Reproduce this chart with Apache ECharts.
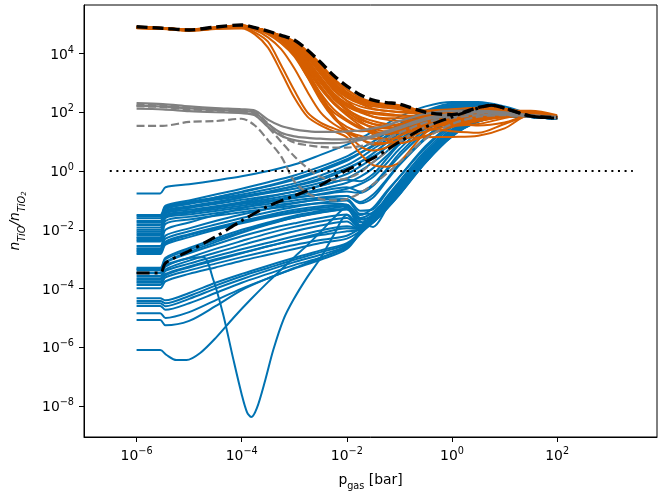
<!DOCTYPE html>
<html><head><meta charset="utf-8">
<script src="https://cdn.jsdelivr.net/npm/echarts@6/dist/echarts.min.js"></script>
<style>html,body{margin:0;padding:0;background:#fff}#c{width:658px;height:497px}</style>
</head><body><div id="c"></div>
<script>
// All values are log10 of the plotted quantities (x: p_gas [bar], y: n_TiO/n_TiO2)
const xTickExp = [-6, -4, -2, 0, 2];
const yTickExp = [-8, -6, -4, -2, 0, 2, 4];

// ---- blue models (shared pressure grid) ----
const xBlue = [-6,-5.55,-5.45,-5,-4.5,-4,-3.5,-3,-2.5,-2,-1.75,-1.5,-1.25,-1,-0.5,0,0.5,1,1.5,2];
const blueLines = [
 [-0.76,-0.76,-0.55,-0.45,-0.32,-0.18,0.0,0.22,0.55,0.9,1.1,1.35,1.6,1.85,2.2,2.35,2.35,2.2,1.95,1.85],
 [-1.5,-1.5,-1.18,-1.0,-0.8,-0.6,-0.38,-0.15,0.15,0.5,0.75,1.0,1.3,1.6,2.05,2.3,2.3,2.15,1.95,1.85],
 [-1.55,-1.55,-1.22,-1.05,-0.9,-0.72,-0.52,-0.3,0.0,0.35,0.6,0.88,1.2,1.5,2.0,2.25,2.28,2.1,1.92,1.83],
 [-1.61,-1.61,-1.25,-1.1,-0.95,-0.8,-0.62,-0.42,-0.15,0.2,0.45,0.75,1.05,1.4,1.95,2.2,2.25,2.1,1.9,1.82],
 [-1.7,-1.7,-1.28,-1.1,-0.9,-0.7,-0.5,-0.25,0.05,0.4,0.62,0.85,1.15,1.45,1.98,2.25,2.27,2.1,1.9,1.82],
 [-1.76,-1.76,-1.3,-1.12,-0.98,-0.85,-0.7,-0.52,-0.3,0.05,0.3,0.6,0.95,1.3,1.9,2.2,2.22,2.05,1.9,1.8],
 [-1.84,-1.84,-1.35,-1.2,-1.05,-0.9,-0.75,-0.6,-0.4,-0.1,0.15,0.45,0.8,1.15,1.8,2.15,2.2,2.05,1.88,1.8],
 [-1.92,-1.92,-1.4,-1.25,-1.12,-0.98,-0.85,-0.7,-0.5,-0.25,0.0,0.3,0.65,1.05,1.7,2.1,2.18,2.05,1.9,1.82],
 [-2.0,-2.0,-1.42,-1.25,-1.08,-0.9,-0.72,-0.5,-0.25,0.1,0.3,0.5,0.8,1.2,1.85,2.18,2.22,2.05,1.9,1.82],
 [-2.06,-2.06,-1.45,-1.32,-1.2,-1.08,-0.95,-0.8,-0.62,-0.4,-0.2,0.1,0.5,0.95,1.65,2.05,2.15,2.0,1.88,1.8],
 [-2.12,-2.12,-1.5,-1.38,-1.25,-1.12,-1.0,-0.9,-0.8,-0.7,-0.75,-0.5,0.0,0.5,1.35,1.9,2.1,2.0,1.88,1.8],
 [-2.18,-2.18,-1.55,-1.42,-1.3,-1.18,-1.05,-0.92,-0.78,-0.6,-0.45,-0.2,0.25,0.75,1.55,2.0,2.1,2.0,1.88,1.8],
 [-2.25,-2.25,-1.58,-1.4,-1.22,-1.05,-0.88,-0.7,-0.5,-0.3,-0.35,-0.1,0.4,0.9,1.6,2.05,2.15,2.02,1.88,1.8],
 [-2.29,-2.29,-1.6,-1.48,-1.36,-1.24,-1.12,-1.0,-0.9,-0.85,-1.1,-0.9,-0.35,0.2,1.1,1.75,2.0,1.95,1.85,1.78],
 [-2.35,-2.35,-1.7,-1.56,-1.44,-1.32,-1.2,-1.08,-0.98,-0.95,-1.35,-1.3,-0.75,-0.2,0.8,1.55,1.9,1.92,1.85,1.78],
 [-2.4,-2.4,-1.8,-1.65,-1.52,-1.4,-1.28,-1.18,-1.1,-1.15,-1.6,-1.7,-1.1,-0.5,0.6,1.4,1.85,1.9,1.85,1.78],
 [-2.55,-2.55,-2.0,-1.75,-1.5,-1.27,-1.05,-0.85,-0.68,-0.55,-0.7,-0.45,0.05,0.6,1.45,1.95,2.1,2.0,1.88,1.8],
 [-2.63,-2.63,-2.2,-1.95,-1.7,-1.48,-1.28,-1.1,-0.95,-0.85,-1.05,-0.8,-0.3,0.25,1.15,1.8,2.05,1.98,1.86,1.8],
 [-2.67,-2.67,-2.3,-2.05,-1.82,-1.6,-1.4,-1.22,-1.08,-1.0,-1.45,-1.45,-0.9,-0.35,0.7,1.5,1.9,1.92,1.85,1.78],
 [-2.72,-2.72,-2.4,-2.15,-1.92,-1.7,-1.5,-1.32,-1.2,-1.15,-1.7,-1.9,-1.3,-0.65,0.5,1.35,1.8,1.9,1.84,1.78],
 [-2.77,-2.77,-2.45,-2.18,-1.95,-1.74,-1.55,-1.38,-1.25,-1.2,-1.75,-1.6,-1.15,-0.6,0.45,1.3,1.75,1.9,1.85,1.8],
 [-2.82,-2.82,-2.5,-2.25,-2.0,-1.78,-1.58,-1.42,-1.3,-1.3,-1.85,-1.6,-1.05,-0.5,0.55,1.4,1.85,1.9,1.84,1.78],
 [-3.29,-3.29,-2.95,-2.62,-2.3,-2.0,-1.75,-1.52,-1.35,-1.2,-1.5,-1.25,-0.7,-0.2,0.85,1.6,1.95,1.95,1.85,1.8],
 [-3.33,-3.33,-3.0,-2.68,-2.36,-2.06,-1.8,-1.58,-1.42,-1.3,-1.65,-1.5,-1.05,-0.5,0.55,1.38,1.8,1.9,1.85,1.8],
 [-3.45,-3.45,-3.12,-2.8,-2.5,-2.22,-1.98,-1.78,-1.6,-1.48,-1.85,-1.55,-1.1,-0.55,0.5,1.35,1.78,1.9,1.85,1.8],
 [-3.48,-3.48,-3.1,-2.75,-2.42,-2.1,-1.82,-1.58,-1.4,-1.3,-1.6,-1.4,-0.95,-0.45,0.5,1.35,1.8,1.9,1.85,1.8],
 [-3.57,-3.57,-3.25,-2.95,-2.65,-2.38,-2.12,-1.9,-1.72,-1.6,-1.95,-1.6,-1.15,-0.6,0.45,1.3,1.75,1.9,1.85,1.8],
 [-3.65,-3.65,-3.35,-3.05,-2.78,-2.52,-2.28,-2.05,-1.85,-1.72,-2.0,-1.7,-1.25,-0.7,0.35,1.22,1.7,1.88,1.84,1.78],
 [-3.7,-3.7,-3.4,-3.15,-2.9,-2.66,-2.44,-2.22,-2.02,-1.88,-1.95,-1.5,-1.0,-0.45,0.6,1.4,1.8,1.92,1.85,1.8],
 [-3.76,-3.76,-3.5,-3.25,-3.0,-2.78,-2.56,-2.36,-2.18,-2.05,-2.0,-1.75,-1.3,-0.8,0.3,1.18,1.68,1.86,1.84,1.78],
 [-3.8,-3.8,-3.55,-3.28,-3.04,-2.8,-2.56,-2.34,-2.12,-1.95,-1.98,-1.65,-1.2,-0.65,0.42,1.28,1.74,1.9,1.85,1.8],
 [-3.88,-3.88,-3.62,-3.38,-3.15,-2.93,-2.72,-2.52,-2.35,-2.2,-1.95,-1.6,-1.15,-0.6,0.45,1.3,1.75,1.9,1.85,1.8],
 [-3.99,-3.99,-3.75,-3.5,-3.28,-3.05,-2.85,-2.65,-2.45,-2.3,-2.05,-1.7,-1.25,-0.7,0.35,1.22,1.7,1.88,1.84,1.78],
 [-4.33,-4.33,-4.4,-4.15,-3.8,-3.5,-3.22,-2.95,-2.7,-2.45,-2.1,-1.5,-1.0,-0.45,0.6,1.4,1.8,1.92,1.85,1.8],
 [-4.42,-4.42,-4.5,-4.25,-3.9,-3.58,-3.3,-3.02,-2.76,-2.5,-2.12,-1.75,-1.3,-0.8,0.3,1.18,1.68,1.86,1.84,1.78],
 [-4.5,-4.5,-4.6,-4.35,-4.0,-3.68,-3.38,-3.1,-2.85,-2.55,-2.1,-1.6,-1.15,-0.6,0.45,1.3,1.75,1.9,1.85,1.8],
 [-4.59,-4.59,-4.72,-4.5,-4.15,-3.8,-3.5,-3.2,-2.95,-2.6,-2.15,-1.7,-1.25,-0.7,0.35,1.22,1.7,1.88,1.84,1.78],
 [-4.84,-4.84,-5.0,-4.8,-4.4,-4.0,-3.65,-3.32,-3.02,-2.65,-2.1,-1.5,-1.0,-0.45,0.6,1.4,1.8,1.92,1.85,1.8],
 [-5.07,-5.07,-5.25,-5.1,-4.6,-4.05,-3.65,-3.3,-2.95,-2.55,-2.05,-1.6,-1.15,-0.6,0.45,1.3,1.75,1.9,1.85,1.8]
];
// blue model with the deep minimum
const xBlueDip = [-6,-5.55,-5.45,-5,-4.73,-4.54,-4.35,-4.16,-4.0,-3.9,-3.82,-3.71,-3.55,-3.4,-3.21,-3.02,-2.75,-2.5,-2.25,-2,-1.75,-1.5,-1.25,-1,-0.5,0,0.5,1,1.5,2];
const yBlueDip = [-3.37,-3.37,-3.2,-2.96,-2.93,-3.7,-4.9,-6.4,-7.6,-8.2,-8.37,-8.06,-7.1,-6.09,-5.07,-4.39,-3.6,-2.96,-2.18,-1.5,-1.9,-1.5,-1.0,-0.5,0.55,1.35,1.78,1.9,1.84,1.78];
// lowest-starting blue model
const xBlueLow = [-6,-5.55,-5.43,-5.24,-5.05,-4.79,-4.48,-4.16,-3.84,-3.5,-3.0,-2.75,-2.5,-2.25,-2,-1.75,-1.5,-1.25,-1,-0.5,0,0.5,1,1.5,2];
const yBlueLow = [-6.09,-6.09,-6.26,-6.43,-6.43,-6.19,-5.65,-5.0,-4.39,-3.78,-2.93,-2.52,-2.07,-1.6,-1.22,-1.85,-1.45,-0.95,-0.45,0.55,1.35,1.78,1.9,1.84,1.78];

// ---- orange models ----
const xOrange = [-6,-5.5,-5,-4.5,-4,-3.75,-3.5,-3.25,-3,-2.75,-2.5,-2.25,-2,-1.75,-1.5,-1.25,-1,-0.5,0,0.5,1,1.5,2];
const orangeLines = [
 [4.87,4.84,4.78,4.84,4.85,4.65,4.2,3.37,2.5,1.85,1.55,1.35,1.15,0.6,0.2,0.15,0.3,1.3,1.7,1.85,1.85,1.88,1.8],
 [4.88,4.85,4.8,4.86,4.9,4.72,4.4,3.6,2.75,2.0,1.65,1.45,1.3,1.1,0.9,0.95,1.2,1.5,1.6,1.55,1.65,1.9,1.82],
 [4.86,4.83,4.77,4.83,4.88,4.8,4.55,4.15,3.5,2.7,2.0,1.6,1.35,1.2,1.1,1.1,1.12,1.15,1.16,1.2,1.45,1.92,1.8],
 [4.87,4.84,4.79,4.85,4.9,4.84,4.65,4.35,3.9,3.2,2.5,2.0,1.7,1.45,1.3,1.25,1.3,1.45,1.35,1.3,1.6,1.88,1.8],
 [4.88,4.85,4.8,4.86,4.92,4.86,4.7,4.45,4.05,3.45,2.8,2.3,2.0,1.75,1.6,1.55,1.55,1.6,1.55,1.6,1.8,1.95,1.82],
 [4.88,4.85,4.8,4.86,4.92,4.87,4.73,4.5,4.15,3.6,3.0,2.45,2.1,1.85,1.7,1.6,1.55,1.7,1.8,1.85,1.95,1.98,1.85],
 [4.89,4.86,4.81,4.87,4.93,4.88,4.75,4.55,4.22,3.7,3.1,2.55,2.2,2.0,1.85,1.75,1.7,1.8,1.9,2.0,2.0,2.02,1.86],
 [4.89,4.86,4.81,4.87,4.93,4.88,4.75,4.56,4.25,3.78,3.2,2.65,2.3,2.1,2.0,1.95,1.9,1.85,1.9,2.05,2.05,2.05,1.9],
 [4.9,4.86,4.8,4.88,4.94,4.88,4.74,4.55,4.28,3.85,3.3,2.75,2.4,2.2,2.1,2.05,2.0,1.95,1.95,2.0,2.02,1.95,1.84],
 [4.9,4.86,4.8,4.88,4.94,4.87,4.75,4.58,4.32,3.9,3.38,2.85,2.5,2.3,2.2,2.15,2.1,1.95,1.9,2.0,2.05,1.97,1.85],
 [4.9,4.86,4.81,4.88,4.95,4.87,4.75,4.58,4.35,3.95,3.45,2.95,2.58,2.38,2.28,2.22,2.18,2.0,1.95,2.1,2.1,1.93,1.84],
 [4.9,4.87,4.81,4.88,4.95,4.87,4.74,4.6,4.38,4.0,3.5,3.0,2.65,2.42,2.3,2.25,2.2,2.05,1.98,2.15,2.12,1.95,1.85],
 [4.91,4.87,4.81,4.89,4.95,4.87,4.75,4.6,4.4,4.05,3.6,3.1,2.7,2.45,2.32,2.27,2.22,2.0,1.92,2.1,2.08,1.92,1.84],
 [4.91,4.87,4.82,4.89,4.96,4.88,4.76,4.6,4.42,4.08,3.65,3.15,2.78,2.5,2.35,2.28,2.24,2.02,1.95,2.12,2.1,1.93,1.84],
 [4.88,4.85,4.8,4.86,4.92,4.86,4.72,4.5,4.1,3.4,2.6,1.9,1.3,0.85,0.7,0.8,1.05,1.5,1.7,1.8,1.85,1.9,1.8],
 [4.87,4.84,4.79,4.85,4.91,4.85,4.7,4.45,4.0,3.3,2.5,1.85,1.5,1.35,1.4,1.5,1.6,1.75,1.75,1.8,1.9,1.9,1.8],
 [4.89,4.86,4.8,4.87,4.93,4.87,4.73,4.52,4.2,3.65,3.05,2.5,2.05,1.7,1.45,1.35,1.4,1.6,1.75,1.9,1.98,1.93,1.82],
 [4.9,4.86,4.8,4.87,4.94,4.87,4.74,4.57,4.3,3.88,3.35,2.8,2.38,2.05,1.85,1.8,1.8,1.85,1.9,2.05,2.08,1.96,1.84],
 [4.88,4.85,4.79,4.86,4.92,4.86,4.72,4.48,4.05,3.35,2.65,2.1,1.75,1.5,1.35,1.3,1.35,1.55,1.65,1.75,1.85,1.9,1.82],
 [4.89,4.86,4.8,4.87,4.93,4.87,4.74,4.53,4.18,3.55,2.9,2.35,1.95,1.65,1.5,1.45,1.5,1.65,1.8,1.95,2.0,1.94,1.83],
 [4.9,4.86,4.81,4.87,4.94,4.88,4.75,4.57,4.26,3.75,3.15,2.6,2.25,2.05,1.95,1.9,1.88,1.9,1.98,2.08,2.06,1.95,1.85],
 [4.9,4.87,4.81,4.88,4.95,4.88,4.76,4.59,4.33,3.92,3.42,2.9,2.55,2.35,2.25,2.2,2.15,2.05,2.0,2.08,2.06,1.94,1.84],
 [4.89,4.85,4.8,4.86,4.93,4.86,4.73,4.5,4.12,3.5,2.85,2.3,1.9,1.55,1.25,1.05,0.95,1.2,1.5,1.7,1.85,1.9,1.82],
 [4.9,4.86,4.8,4.87,4.94,4.87,4.75,4.56,4.24,3.72,3.12,2.55,2.12,1.8,1.6,1.5,1.45,1.5,1.6,1.75,1.92,1.95,1.84],
 [4.91,4.87,4.81,4.88,4.95,4.88,4.76,4.6,4.36,3.98,3.52,3.02,2.6,2.3,2.12,2.05,2.02,2.05,2.1,2.15,2.1,1.96,1.85],
 [4.88,4.85,4.79,4.85,4.91,4.85,4.7,4.42,3.95,3.2,2.4,1.8,1.4,1.1,0.95,0.95,1.05,1.35,1.55,1.7,1.85,1.9,1.82]
];

// ---- grey models (same grid as orange) ----
const greySolid = [
 [2.31,2.28,2.2,2.14,2.1,2.06,1.75,1.53,1.42,1.36,1.33,1.33,1.35,1.38,1.45,1.55,1.7,1.95,2.05,2.05,2.0,1.9,1.84],
 [2.22,2.2,2.13,2.08,2.04,1.98,1.6,1.3,1.18,1.13,1.1,1.08,1.08,1.12,1.2,1.35,1.5,1.8,1.95,2.02,1.98,1.88,1.82],
 [2.12,2.1,2.04,2.0,1.97,1.9,1.5,1.2,1.05,0.98,0.95,0.95,0.98,1.05,1.15,1.3,1.45,1.75,1.9,2.0,1.96,1.88,1.82]
];
const greyDashed = [
 [2.25,2.23,2.16,2.1,2.06,2.0,1.62,1.22,0.97,0.88,0.82,0.8,0.8,0.85,0.95,1.1,1.3,1.65,1.85,1.95,1.95,1.88,1.82],
 [2.2,2.18,2.1,2.06,2.02,1.95,1.5,1.0,0.5,0.1,-0.2,-0.3,-0.25,-0.05,0.3,0.65,1.0,1.5,1.8,1.9,1.92,1.86,1.8],
 [1.54,1.54,1.67,1.7,1.78,1.55,1.05,0.5,-0.35,-0.75,-0.95,-1.0,-0.95,-0.75,-0.45,-0.1,0.3,1.1,1.6,1.85,1.9,1.85,1.8]
];

// ---- black reference curves ----
const xDashed = [-6,-5.5,-5,-4.5,-4,-3.75,-3.5,-3.25,-3,-2.75,-2.5,-2.25,-2,-1.75,-1.5,-1.25,-1,-0.5,0,0.5,0.75,1,1.5,2];
const yDashed = [4.91,4.86,4.8,4.9,4.97,4.88,4.76,4.62,4.46,4.12,3.7,3.25,2.89,2.6,2.41,2.33,2.28,2.0,1.92,2.16,2.24,2.14,1.87,1.82];
const xDashDot = [-6,-5.55,-5.45,-5,-4.5,-4,-3.5,-3,-2.5,-2,-1.5,-1,-0.5,0,0.5,0.75,1,1.5,2];
const yDashDot = [-3.47,-3.47,-3.13,-2.72,-2.24,-1.69,-1.2,-0.84,-0.48,0.03,0.44,0.99,1.5,1.84,2.14,2.24,2.14,1.87,1.8];
const xUnity = [-6.51, 3.44];
const yUnity = [0, 0];

const BLUE = '#0072B2', ORANGE = '#D55E00', GREY = '#808080';
const series = [];
function addLine(xs, ys, color, width, type, z, smooth) {
  series.push({
    type: 'line', data: xs.map((x, i) => [x, ys[i]]),
    showSymbol: false, symbol: 'none', smooth: smooth, silent: true, z: z,
    lineStyle: { color: color, width: width, type: type, cap: 'butt', join: 'round' }
  });
}
blueLines.forEach(ys => addLine(xBlue, ys, BLUE, 2, 'solid', 2, 0.3));
addLine(xBlueDip, yBlueDip, BLUE, 2, 'solid', 2, 0.3);
addLine(xBlueLow, yBlueLow, BLUE, 2, 'solid', 2, 0.3);
orangeLines.forEach(ys => addLine(xOrange, ys, ORANGE, 2, 'solid', 3, 0.3));
greySolid.forEach(ys => addLine(xOrange, ys, GREY, 2.2, 'solid', 4, 0.3));
greyDashed.forEach(ys => addLine(xOrange, ys, GREY, 2.2, [8, 3.5], 4, 0.3));
addLine(xDashed, yDashed, '#000', 3.4, [11, 5], 5, 0.3);
addLine(xDashDot, yDashDot, '#000', 3, [13, 5, 3, 5], 5, 0.3);
addLine(xUnity, yUnity, '#000', 2, [2, 4.6], 5, false);

const FONT = 'DejaVu Sans';
const powLabel = v => '{b|10}{s|' + (v < 0 ? '\u2212' + (-v) : String(v)) + '}';
const powRich = {
  b: { fontSize: 13.9, fontFamily: FONT, color: '#000', lineHeight: 17, verticalAlign: 'bottom' },
  s: { fontSize: 9.7, fontFamily: FONT, color: '#000', lineHeight: 17, verticalAlign: 'top' }
};

const chart = echarts.init(document.getElementById('c'), null, { renderer: 'canvas' });
chart.setOption({
  animation: false,
  backgroundColor: '#fff',
  grid: { left: 82, right: 1, top: 5, bottom: 60, show: true, borderColor: '#000', borderWidth: 1, backgroundColor: 'transparent' },
  xAxis: {
    type: 'value', min: -7.0, max: 3.9,
    axisLine: { show: true, onZero: false, lineStyle: { color: '#000', width: 1 } },
    axisTick: { show: true, length: 5, lineStyle: { color: '#000', width: 1 }, customValues: xTickExp },
    axisLabel: { customValues: xTickExp, formatter: powLabel, rich: powRich, margin: 9 },
    splitLine: { show: false },
    name: '{a|p}{g|gas}{a| [bar]}', nameLocation: 'middle', nameGap: 36,
    nameTextStyle: { rich: {
      a: { fontSize: 13.9, fontFamily: FONT, color: '#000', lineHeight: 18, verticalAlign: 'top' },
      g: { fontSize: 9.7, fontFamily: FONT, color: '#000', lineHeight: 18, verticalAlign: 'bottom' }
    } }
  },
  yAxis: {
    type: 'value', min: -9.05, max: 5.65,
    axisLine: { show: true, onZero: false, lineStyle: { color: '#000', width: 1 } },
    axisTick: { show: true, length: 5, lineStyle: { color: '#000', width: 1 }, customValues: yTickExp },
    axisLabel: { customValues: yTickExp, formatter: powLabel, rich: powRich, margin: 10 },
    splitLine: { show: false },
    name: '{i|n}{u|TiO}{i|/n}{u|TiO}{w|2}', nameLocation: 'middle', nameGap: 56, nameRotate: 90,
    nameTextStyle: { rich: {
      i: { fontSize: 13.9, fontFamily: FONT, fontStyle: 'italic', color: '#000', lineHeight: 20, verticalAlign: 'top' },
      u: { fontSize: 9.7, fontFamily: FONT, fontStyle: 'italic', color: '#000', lineHeight: 20, verticalAlign: 'bottom', padding: [0, 0, 1, 0] },
      w: { fontSize: 7, fontFamily: FONT, fontStyle: 'italic', color: '#000', lineHeight: 20, verticalAlign: 'bottom' }
    } }
  },
  series: series
});
</script></body></html>
